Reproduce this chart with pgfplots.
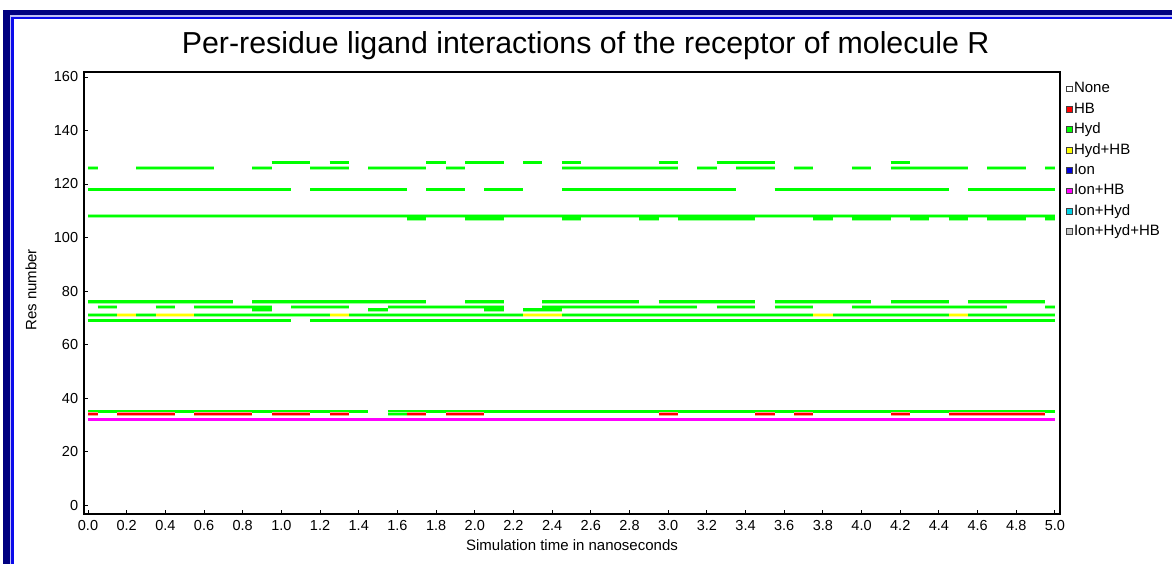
\documentclass[border=0pt]{standalone}
\usepackage{pgfplots}
\pgfplotsset{compat=1.18}
\usepackage{fontspec}
\setmainfont{Liberation Sans}

\definecolor{hyd}{RGB}{0,255,0}
\definecolor{hb}{RGB}{255,0,0}
\definecolor{hydhb}{RGB}{255,255,0}
\definecolor{ion}{RGB}{0,0,220}
\definecolor{ionhb}{RGB}{255,0,255}
\definecolor{ionhyd}{RGB}{0,210,230}
\definecolor{ionhydhb}{RGB}{200,200,200}
\definecolor{framenavy}{RGB}{0,0,128}
\definecolor{framegap}{RGB}{190,190,245}
\definecolor{frameblue}{RGB}{10,10,235}

\newcommand{\tickfont}{\fontsize{8.7}{10}\selectfont}
\newcommand{\labelfont}{\fontsize{9}{11}\selectfont}

\begin{document}
\begin{tikzpicture}
% window frame (pixel grid, y downwards)
\begin{scope}[x=0.6pt,y=-0.6pt]
  \useasboundingbox (0,0) rectangle (1172,564);
  \fill[white] (0,0) rectangle (1172,564);
  \fill[framenavy] (3,10) rectangle (1172,564);
  \fill[framegap] (10,15) rectangle (1172,564);
  \fill[frameblue] (11,16.5) rectangle (1172,564);
  \fill[white] (14,19) rectangle (1172,564);
\end{scope}

\begin{axis}[
  at={(50.4pt,-43.2pt)}, anchor=north west,
  scale only axis, width=585.6pt, height=265.2pt,
  xmin=-0.0207, xmax=5.026, ymin=-3.36, ymax=161.87,
  axis line style={line width=1.2pt},
  tick style={black, line width=0.6pt},
  major tick length=2.6pt,
  tick align=inside,
  xtick={0,0.2,...,5.01}, ytick={0,20,...,160},
  xtick pos=bottom, ytick pos=left,
  /pgf/number format/assume math mode=true,
  xticklabel style={font=\tickfont, text height=6.2pt, text depth=0pt,
    /pgf/number format/.cd, fixed, fixed zerofill, precision=1},
  yticklabel style={font=\tickfont},
  title={Per-residue ligand interactions of the receptor of molecule R},
  title style={font=\fontsize{18.2}{21}\selectfont, at={(axis description cs:0.514,1.0200)}, anchor=base, inner sep=0pt},
  xlabel={Simulation time in nanoseconds},
  xlabel style={font=\labelfont, at={(axis description cs:0.5,-0.0837)}, anchor=base, inner sep=0pt},
  ylabel={Res number},
  ylabel style={font=\labelfont, at={(axis description cs:-0.0543,0.507)}, anchor=center, inner sep=0pt},
  unbounded coords=jump,
  legend image code/.code={\draw[#1, draw=black!75, line width=0.5pt] (0pt,-1.7pt) rectangle (3.4pt,1.7pt);},
  legend style={draw=none, fill=none, font=\labelfont, at={(axis description cs:1.006,0.9812)}, anchor=north west,
    inner sep=0pt, row sep=2.34pt, nodes={inner sep=0.8pt, text height=6.5pt, text depth=1.8pt}},
  legend cell align=left,
  clip=true,
]
\addlegendimage{fill=white}\addlegendentry{None}
\addlegendimage{fill=hb}\addlegendentry{HB}
\addlegendimage{fill=hyd}\addlegendentry{Hyd}
\addlegendimage{fill=hydhb}\addlegendentry{Hyd+HB}
\addlegendimage{fill=ion}\addlegendentry{Ion}
\addlegendimage{fill=ionhb}\addlegendentry{Ion+HB}
\addlegendimage{fill=ionhyd}\addlegendentry{Ion+Hyd}
\addlegendimage{fill=ionhydhb}\addlegendentry{Ion+Hyd+HB}

% each residue row is a set of interrupted horizontal segments (one frame = 0.05 ns)
\pgfplotsset{seg/.style={forget plot, line width=1.62pt, line cap=butt,
  preaction={draw, line width=2.2pt, #1!40}, #1}}

% residue 128
\addplot[seg=hyd] coordinates {(0.95,128) (1.15,128) (1.15,nan) (1.25,128) (1.35,128) (1.35,nan)
 (1.75,128) (1.85,128) (1.85,nan) (1.95,128) (2.15,128) (2.15,nan) (2.25,128) (2.35,128) (2.35,nan)
 (2.45,128) (2.55,128) (2.55,nan) (2.95,128) (3.05,128) (3.05,nan) (3.25,128) (3.55,128) (3.55,nan)
 (4.15,128) (4.25,128)};
% residue 126
\addplot[seg=hyd] coordinates {(0,126) (0.05,126) (0.05,nan) (0.25,126) (0.65,126) (0.65,nan)
 (0.85,126) (0.95,126) (0.95,nan) (1.15,126) (1.35,126) (1.35,nan) (1.45,126) (1.75,126) (1.75,nan)
 (1.85,126) (1.95,126) (1.95,nan) (2.45,126) (3.05,126) (3.05,nan) (3.15,126) (3.25,126) (3.25,nan)
 (3.35,126) (3.55,126) (3.55,nan) (3.65,126) (3.75,126) (3.75,nan) (3.95,126) (4.05,126) (4.05,nan)
 (4.15,126) (4.55,126) (4.55,nan) (4.65,126) (4.85,126) (4.85,nan) (4.95,126) (5.0,126)};
% residue 118
\addplot[seg=hyd] coordinates {(0,118) (1.05,118) (1.05,nan) (1.15,118) (1.65,118) (1.65,nan)
 (1.75,118) (1.95,118) (1.95,nan) (2.05,118) (2.25,118) (2.25,nan) (2.45,118) (3.35,118) (3.35,nan)
 (3.55,118) (4.45,118) (4.45,nan) (4.55,118) (5.0,118)};
% residue 108
\addplot[seg=hyd] coordinates {(0,108) (5.0,108)};
% residue 107
\addplot[seg=hyd] coordinates {(1.65,107) (1.75,107) (1.75,nan) (1.95,107) (2.15,107) (2.15,nan)
 (2.45,107) (2.55,107) (2.55,nan) (2.85,107) (2.95,107) (2.95,nan) (3.05,107) (3.45,107) (3.45,nan)
 (3.75,107) (3.85,107) (3.85,nan) (3.95,107) (4.15,107) (4.15,nan) (4.25,107) (4.35,107) (4.35,nan)
 (4.45,107) (4.55,107) (4.55,nan) (4.65,107) (4.85,107) (4.85,nan) (4.95,107) (5.0,107)};
% residue 76
\addplot[seg=hyd] coordinates {(0,76) (0.75,76) (0.75,nan) (0.85,76) (1.75,76) (1.75,nan)
 (1.95,76) (2.15,76) (2.15,nan) (2.35,76) (2.85,76) (2.85,nan) (2.95,76) (3.45,76) (3.45,nan)
 (3.55,76) (4.05,76) (4.05,nan) (4.15,76) (4.45,76) (4.45,nan) (4.55,76) (4.95,76)};
% residue 74
\addplot[seg=hyd] coordinates {(0.05,74) (0.15,74) (0.15,nan) (0.35,74) (0.45,74) (0.45,nan)
 (0.55,74) (0.95,74) (0.95,nan) (1.05,74) (1.35,74) (1.35,nan) (1.55,74) (2.15,74) (2.15,nan)
 (2.35,74) (3.15,74) (3.15,nan) (3.25,74) (3.45,74) (3.45,nan) (3.55,74) (3.75,74) (3.75,nan)
 (3.95,74) (4.75,74) (4.75,nan) (4.95,74) (5.0,74)};
% residue 73
\addplot[seg=hyd] coordinates {(0.85,73) (0.95,73) (0.95,nan) (1.45,73) (1.55,73) (1.55,nan)
 (2.05,73) (2.15,73) (2.15,nan) (2.25,73) (2.45,73)};
% residue 71
\addplot[seg=hyd] coordinates {(0,71) (0.15,71) (0.15,nan) (0.25,71) (0.35,71) (0.35,nan)
 (0.55,71) (1.25,71) (1.25,nan) (1.35,71) (2.25,71) (2.25,nan) (2.45,71) (3.75,71) (3.75,nan)
 (3.85,71) (4.45,71) (4.45,nan) (4.55,71) (5.0,71)};
\addplot[seg=hydhb] coordinates {(0.15,71) (0.25,71) (0.25,nan) (0.35,71) (0.55,71) (0.55,nan)
 (1.25,71) (1.35,71) (1.35,nan) (2.25,71) (2.45,71) (2.45,nan) (3.75,71) (3.85,71) (3.85,nan)
 (4.45,71) (4.55,71)};
% residue 69
\addplot[seg=hyd] coordinates {(0,69) (1.05,69) (1.05,nan) (1.15,69) (5.0,69)};
% residue 35
\addplot[seg=hyd] coordinates {(0,35) (1.45,35) (1.45,nan) (1.55,35) (5.0,35)};
% residue 34
\addplot[seg=hyd] coordinates {(1.55,34) (1.65,34)};
\addplot[seg=hb] coordinates {(0,34) (0.05,34) (0.05,nan) (0.15,34) (0.45,34) (0.45,nan)
 (0.55,34) (0.85,34) (0.85,nan) (0.95,34) (1.15,34) (1.15,nan) (1.25,34) (1.35,34) (1.35,nan)
 (1.65,34) (1.75,34) (1.75,nan) (1.85,34) (2.05,34) (2.05,nan) (2.95,34) (3.05,34) (3.05,nan)
 (3.45,34) (3.55,34) (3.55,nan) (3.65,34) (3.75,34) (3.75,nan) (4.15,34) (4.25,34) (4.25,nan)
 (4.45,34) (4.95,34)};
% residue 32
\addplot[seg=ionhb] coordinates {(0,32) (5.0,32)};

% small inward tick on the right-hand frame at zero
\draw[black, line width=0.6pt] (axis cs:5.026,0) -- ++(-2.6pt,0);
\end{axis}
\end{tikzpicture}
\end{document}
